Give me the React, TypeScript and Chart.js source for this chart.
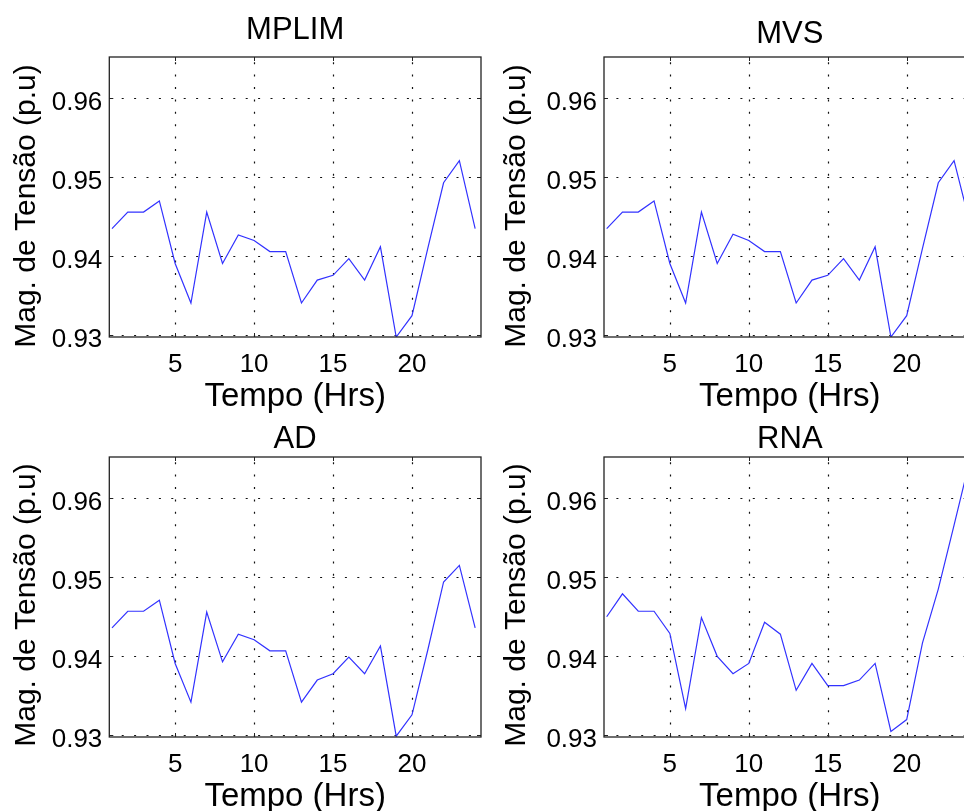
import React, { useEffect, useRef } from "react";
import { Chart, registerables } from "chart.js";

Chart.register(...registerables);

const hours = [1, 2, 3, 4, 5, 6, 7, 8, 9, 10, 11, 12, 13, 14, 15, 16, 17, 18, 19, 20, 21, 22, 23, 24];
const mplim = [0.9435, 0.9456, 0.9456, 0.947, 0.9391, 0.9341, 0.9456, 0.9391, 0.9427, 0.942, 0.9406, 0.9406, 0.9341, 0.937, 0.9376, 0.9397, 0.937, 0.9412, 0.9298, 0.9325, 0.941, 0.9493, 0.9521, 0.9435];
const mvs = [0.9435, 0.9456, 0.9456, 0.947, 0.9391, 0.9341, 0.9456, 0.9391, 0.9428, 0.942, 0.9406, 0.9406, 0.9341, 0.937, 0.9376, 0.9397, 0.937, 0.9412, 0.9298, 0.9325, 0.941, 0.9493, 0.9521, 0.9442];
const ad = [0.9436, 0.9457, 0.9457, 0.9471, 0.9391, 0.9342, 0.9456, 0.9393, 0.9428, 0.9421, 0.9407, 0.9407, 0.9342, 0.937, 0.9378, 0.9399, 0.9378, 0.9413, 0.9299, 0.9326, 0.9408, 0.9494, 0.9515, 0.9436];
const rna = [0.945, 0.9479, 0.9457, 0.9457, 0.9429, 0.9334, 0.9449, 0.94, 0.9378, 0.9391, 0.9443, 0.9428, 0.9357, 0.9391, 0.9363, 0.9363, 0.937, 0.9391, 0.9305, 0.932, 0.9417, 0.9485, 0.9566, 0.9648];

const xTicks = [5, 10, 15, 20];
const yTicks = [0.93, 0.94, 0.95, 0.96];
const xMin = 0.83;
const xMax = 24.37;
const yMin = 0.9298;
const yMax = 0.9652;

const titles = ["MPLIM", "MVS", "AD", "RNA"];
const xTitle = "Tempo (Hrs)";
const yTitle = "Mag. de Tensão (p.u)";

const FONT = "'Liberation Sans', Arial, Helvetica, sans-serif";

function makeFramePlugin(yTitleX: number, yTitleShift: number) {
  return {
    id: "matlabFrame",
    beforeDatasetsDraw(chart: any) {
      const { ctx, chartArea, scales } = chart;
      const { left, right, top, bottom } = chartArea;
      const xs = scales.x;
      const ys = scales.y;
      ctx.save();
      ctx.strokeStyle = "#111";
      ctx.lineWidth = 1.2;
      ctx.setLineDash([2, 10.4]);
      xs.ticks.forEach((t: any) => {
        const px = Math.round(xs.getPixelForValue(t.value)) + 0.5;
        ctx.beginPath();
        ctx.moveTo(px, bottom);
        ctx.lineTo(px, top);
        ctx.stroke();
      });
      ys.ticks.forEach((t: any) => {
        const py = Math.round(ys.getPixelForValue(t.value)) + 0.5;
        ctx.beginPath();
        ctx.moveTo(left, py);
        ctx.lineTo(right, py);
        ctx.stroke();
      });
      ctx.setLineDash([]);
      ctx.lineWidth = 1;
      ctx.strokeStyle = "#222";
      const tl = 4;
      xs.ticks.forEach((t: any) => {
        const px = Math.round(xs.getPixelForValue(t.value)) + 0.5;
        ctx.beginPath();
        ctx.moveTo(px, bottom);
        ctx.lineTo(px, bottom - tl);
        ctx.moveTo(px, top);
        ctx.lineTo(px, top + tl);
        ctx.stroke();
      });
      ys.ticks.forEach((t: any) => {
        const py = Math.round(ys.getPixelForValue(t.value)) + 0.5;
        ctx.beginPath();
        ctx.moveTo(left, py);
        ctx.lineTo(left + tl, py);
        ctx.moveTo(right, py);
        ctx.lineTo(right - tl, py);
        ctx.stroke();
      });
      ctx.restore();
    },
    afterDatasetsDraw(chart: any) {
      const { ctx, chartArea } = chart;
      const { left, right, top, bottom } = chartArea;
      ctx.save();
      ctx.strokeStyle = "#222";
      ctx.lineWidth = 1.3;
      ctx.strokeRect(left, top, right - left, bottom - top);
      ctx.restore();
    },
    afterDraw(chart: any) {
      const { ctx, chartArea } = chart;
      const cy = (chartArea.top + chartArea.bottom) / 2 + yTitleShift;
      ctx.save();
      ctx.translate(yTitleX, cy);
      ctx.rotate(-Math.PI / 2);
      ctx.font = `30px ${FONT}`;
      ctx.fillStyle = "#000";
      ctx.textAlign = "center";
      ctx.textBaseline = "middle";
      ctx.fillText(yTitle, 0, 0);
      ctx.restore();
    },
  };
}

type PanelProps = {
  title: string;
  values: number[];
  left: number;
  top: number;
  width: number;
  height: number;
  yWidth: number;
  padRight: number;
  titleCenter: number;
  yTitleShift: number;
};

function Panel(p: PanelProps) {
  const ref = useRef<HTMLCanvasElement | null>(null);
  useEffect(() => {
    if (!ref.current) return;
    const titleLH = 31 * 1.2;
    const tPadTop = p.titleCenter - titleLH / 2;
    const tPadBottom = 57 - tPadTop - titleLH;
    const chart = new Chart(ref.current, {
      type: "line",
      data: {
        datasets: [
          {
            data: hours.map((h, i) => ({ x: h, y: p.values[i] })),
            borderColor: "rgb(50,50,255)",
            borderWidth: 1.2,
            pointRadius: 0,
            tension: 0,
            fill: false,
          },
        ],
      },
      options: {
        animation: false,
        responsive: false,
        maintainAspectRatio: false,
        events: [],
        layout: { padding: { left: 0, right: p.padRight, top: 0, bottom: 0 } },
        plugins: {
          legend: { display: false },
          tooltip: { enabled: false },
          title: {
            display: true,
            fullSize: false,
            text: p.title,
            color: "#000",
            font: { family: FONT, size: 31, weight: "normal" },
            padding: { top: tPadTop, bottom: tPadBottom },
          },
        },
        scales: {
          x: {
            type: "linear",
            min: xMin,
            max: xMax,
            grid: { display: false, drawTicks: false },
            border: { display: false },
            ticks: {
              color: "#000",
              font: { family: FONT, size: 26 },
              padding: 12.4,
              maxRotation: 0,
              callback: (v: any) => String(v),
            },
            afterBuildTicks: (s: any) => {
              s.ticks = xTicks.map((v) => ({ value: v }));
            },
            afterFit: (s: any) => {
              s.height = 83;
            },
            title: {
              display: true,
              text: xTitle,
              color: "#000",
              font: { family: FONT, size: 33 },
              padding: { top: 0, bottom: 3.4 },
            },
          },
          y: {
            type: "linear",
            min: yMin,
            max: yMax,
            grid: { display: false, drawTicks: false },
            border: { display: false },
            ticks: {
              color: "#000",
              font: { family: FONT, size: 26 },
              padding: 7,
              labelOffset: 4.5,
              callback: (v: any) => Number(v).toFixed(2),
            },
            afterBuildTicks: (s: any) => {
              s.ticks = yTicks.map((v) => ({ value: v }));
            },
            afterFit: (s: any) => {
              s.width = p.yWidth;
            },
            title: { display: false },
          },
        },
      } as any,
      plugins: [makeFramePlugin(27, p.yTitleShift)],
    });
    return () => chart.destroy();
  }, []);
  return (
    <canvas
      ref={ref}
      width={p.width}
      height={p.height}
      style={{ position: "absolute", left: p.left, top: p.top, width: p.width, height: p.height }}
    />
  );
}

export default function App() {
  return (
    <div
      style={{
        position: "fixed",
        left: 0,
        top: 0,
        width: 964,
        height: 811,
        overflow: "hidden",
        background: "#fff",
      }}
    >
      <Panel title={titles[0]} values={mplim} left={0} top={0} width={490} height={420} yWidth={109.3} padRight={9} titleCenter={30.2} yTitleShift={9} />
      <Panel title={titles[1]} values={mvs} left={490} top={0} width={500} height={420} yWidth={114} padRight={14.3} titleCenter={34.8} yTitleShift={9} />
      <Panel title={titles[2]} values={ad} left={0} top={400} width={490} height={420} yWidth={109.3} padRight={9} titleCenter={39.5} yTitleShift={8} />
      <Panel title={titles[3]} values={rna} left={490} top={400} width={500} height={420} yWidth={114} padRight={14.3} titleCenter={39.5} yTitleShift={8} />
    </div>
  );
}
